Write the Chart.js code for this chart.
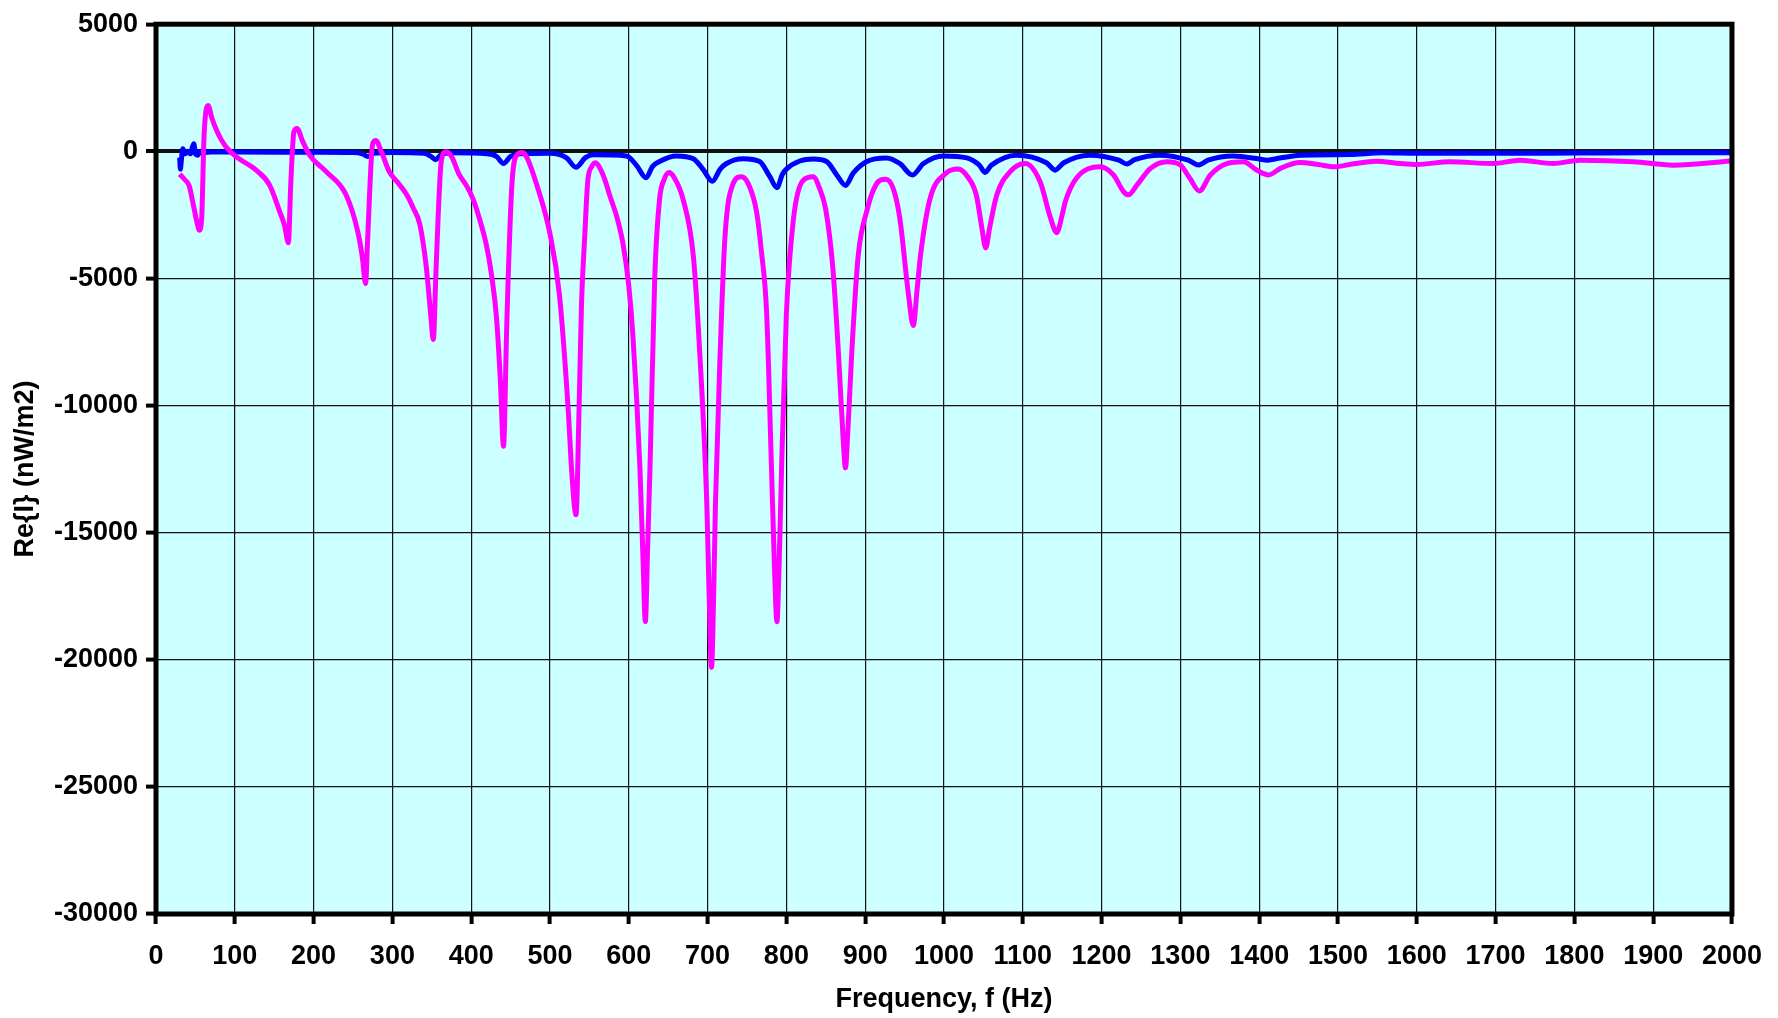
<!DOCTYPE html>
<html>
<head>
<meta charset="utf-8">
<script src="https://cdn.jsdelivr.net/npm/chart.js"></script>
<style>
  html, body { margin: 0; padding: 0; background: #fff; }
  canvas { display: block; }
</style>
</head>
<body>
<canvas id="chart" width="1778" height="1018"></canvas>
<script>
// magenta curve: frequency (Hz) and Re{I} (nW/m2)
var magentaF = [30, 36, 42, 48, 52, 55, 58, 61, 66, 71, 76, 83, 89, 102, 115, 127, 144, 157, 163, 168, 171, 175, 179, 186, 195,
    216, 241, 256, 262, 266, 268.5, 275, 279, 286, 296, 306, 318, 326, 335, 343, 348, 352, 355, 358, 362, 368, 375, 385, 394, 402, 410, 419, 426, 432, 437,
    441, 445, 447, 452, 459, 464, 470, 483, 500, 512, 523, 528, 533, 537, 540, 544, 548, 553, 558, 564, 570, 576, 585, 593, 600, 605, 614, 618,
    621, 624, 627, 633, 639, 645, 651, 657, 669, 682, 690, 699, 702, 705, 708, 710, 716, 722, 732, 743, 752, 762, 768, 775, 781, 785,
    788, 791, 794, 800, 809, 821, 834, 842, 850, 859, 866, 872, 875, 878, 883, 891, 902, 914, 926, 936, 944, 955, 961, 966, 970, 982,
    1003, 1018, 1030, 1041, 1048, 1053, 1058, 1067, 1084, 1103, 1122, 1135, 1143, 1150, 1154, 1168, 1198, 1215, 1228, 1234, 1245,
    1262, 1283, 1300, 1312, 1324, 1338, 1359, 1380, 1397, 1412, 1427, 1452, 1475, 1495, 1520, 1549, 1579, 1600, 1642, 1697, 1731,
    1773, 1807, 1875, 1925, 1998];
var magentaV = [-900, -1100, -1350, -2200, -2800, -3100, -2600, 600, 1800, 1300, 890, 450, 170, -220, -480, -740, -1320, -2370, -2900, -3600, -1300, 760, 900, 400, -150,
    -800, -1700, -3150, -4200, -5200, -3500, 300, 430, -20, -800, -1200, -1700, -2200, -2900, -4550, -6200, -7400, -5000, -2600, -400, -20, -200, -930, -1350, -1850, -2600, -3650, -4900, -6500, -9000,
    -11600, -7000, -4900, -1150, -110, -50, -200, -1300, -3250, -5650, -10100, -12800, -14300, -10000, -6000, -3400, -1150, -600, -450, -700, -1150, -1750, -2600, -3700, -5300, -7150, -12350, -16000,
    -18500, -15500, -12350, -4900, -1900, -1100, -830, -1000, -1900, -4150, -7900, -13850, -17500, -20300, -17000, -13850, -7900, -3400, -1300, -1000, -1300, -2350, -3850, -6400, -12350, -16500,
    -18500, -16000, -12350, -6400, -2650, -1150, -1000, -1450, -2300, -4600, -7900, -11300, -12450, -11000, -7900, -4150, -2350, -1300, -1100, -1500, -2650, -5650, -6850, -5400, -4150, -1900,
    -850, -700, -1000, -1715, -3000, -3800, -3000, -1715, -800, -480, -1200, -2600, -3200, -2500, -1976, -1060, -610, -930, -1590, -1710, -1320,
    -670, -410, -540, -1060, -1560, -930, -480, -410, -740, -930, -670, -440, -520, -610, -490, -390, -480, -520, -410, -480, -350,
    -480, -350, -410, -545, -380];

// blue curve
var blueF = [30, 31, 32, 34, 37, 40, 44, 46, 48, 50, 53, 56, 60, 70, 100, 200, 250, 262, 269, 276, 300, 340, 349, 355, 361, 375,
    420, 432, 441, 450, 462, 500, 521, 533, 545, 555, 597, 610, 622, 630, 639, 660, 682, 694, 706, 716, 724, 745, 766, 779, 788,
    795, 800, 817, 834, 851, 864, 875, 885, 902, 927, 944, 960, 974, 999, 1029, 1045, 1052, 1060, 1092, 1130, 1141, 1152, 1185,
    1222, 1232, 1242, 1274, 1310, 1323, 1335, 1367, 1400, 1410, 1420, 1452, 1515, 1557, 1600, 1700, 1800, 1900, 2000];
var blueV = [-250, -700, -400, 100, -100, 0, -100, 150, 300, -100, -150, 0, -50, -30, -30, -40, -50, -100, -200, -80, -50, -80, -200, -330, -150, -60,
    -100, -200, -480, -200, -100, -80, -260, -630, -250, -140, -180, -560, -1040, -600, -400, -180, -290, -700, -1180, -700, -480, -290, -400, -1000, -1430,
    -900, -700, -380, -300, -400, -930, -1340, -850, -400, -260, -480, -930, -480, -180, -260, -550, -830, -550, -150, -450, -740, -450, -150,
    -350, -500, -330, -150, -350, -540, -350, -180, -300, -350, -300, -150, -125, -60, -80, -80, -70, -60, -60];

var xMin = 0, xMax = 2000, xStep = 100;
var yMin = -30000, yMax = 5000, yStep = 5000;

function pts(fs, vs) {
    return fs.map(function(f, i) { return {x: f, y: vs[i]}; });
}

var plotBg = {
    id: 'plotBg',
    beforeDraw: function(chart) {
        var a = chart.chartArea, ctx = chart.ctx;
        ctx.save();
        ctx.fillStyle = '#ccffff';
        ctx.fillRect(a.left, a.top, a.right - a.left, a.bottom - a.top);
        ctx.restore();
    },
    afterDatasetsDraw: function(chart) {
        var a = chart.chartArea, ctx = chart.ctx;
        ctx.save();
        ctx.strokeStyle = '#000';
        ctx.lineWidth = 5;
        ctx.strokeRect(a.left, a.top, a.right - a.left, a.bottom - a.top);
        ctx.restore();
    }
};

Chart.defaults.font.family = '"Liberation Sans", Arial, sans-serif';
Chart.defaults.color = '#000';

var tickFont = {size: 27, weight: 'bold'};
function plain(v) { return String(v); }

new Chart(document.getElementById('chart').getContext('2d'), {
    type: 'line',
    data: {
        datasets: [{
            data: pts(magentaF, magentaV),
            borderColor: '#ff00ff',
            borderWidth: 5,
            cubicInterpolationMode: 'monotone',
            pointRadius: 0,
            fill: false
        }, {
            data: pts(blueF, blueV),
            borderColor: '#0000ff',
            borderWidth: 5,
            cubicInterpolationMode: 'monotone',
            pointRadius: 0,
            fill: false
        }]
    },
    options: {
        responsive: false,
        animation: false,
        devicePixelRatio: 1,
        layout: { padding: { left: 0, top: 18, right: 46, bottom: 0 } },
        plugins: { legend: { display: false }, tooltip: { enabled: false } },
        scales: {
            x: {
                type: 'linear',
                min: xMin, max: xMax,
                ticks: { stepSize: xStep, font: tickFont, padding: 16, maxRotation: 0, autoSkip: false, callback: plain },
                grid: { color: '#111', lineWidth: 1.2, tickLength: 10, tickWidth: 4, tickColor: '#000' },
                border: { display: false },
                title: { display: true, text: 'Frequency, f (Hz)', font: tickFont, padding: { top: 0, bottom: 2 } },
                afterFit: function(s) { s.height = 104; }
            },
            y: {
                min: yMin, max: yMax,
                ticks: { stepSize: yStep, font: tickFont, padding: 8, callback: plain },
                grid: {
                    color: '#111',
                    lineWidth: function(c) { return c.tick && c.tick.value === 0 ? 4 : 1.2; },
                    tickLength: 10, tickWidth: 4, tickColor: '#000'
                },
                border: { display: false },
                title: { display: true, text: 'Re{I} (nW/m2)', font: tickFont, padding: { top: 9, bottom: 0 } },
                afterFit: function(s) { s.width = 156; }
            }
        }
    },
    plugins: [plotBg]
});
</script>
</body>
</html>
